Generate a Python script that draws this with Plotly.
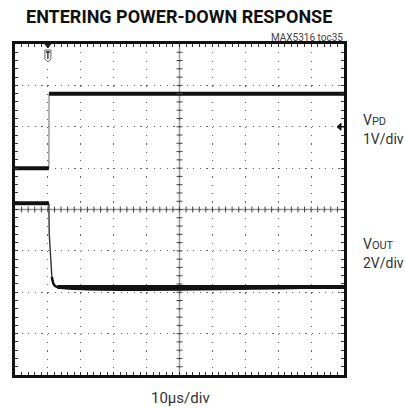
import plotly.graph_objects as go

# Scope settings
time_range_us = [-10, 90]          # 10 us/div, trigger one division from the left
vpd_range_v = [-5, 3]              # 1 V/div, ground one division above centre
vout_range_v = [-4.25, 11.75]      # 2 V/div
trigger_level_v = 1.0

# Power-down input (VPD)
vpd_time_us = [-10, 0.3, 0.35, 90]
vpd_volts = [0.0, 0.0, 1.8, 1.8]

# DAC output (VOUT)
vout_time_us = [-10, 0.3, 0.4, 0.7, 1.2, 1.9, 2.9, 90]
vout_volts = [4.05, 4.05, 2.6, 1.8, 0.5, 0.1, 0.0, 0.0]

W, H = 405, 409
ML, MR, MT, MB = 15, 61, 44, 34
PW, PH = W - ML - MR, H - MT - MB


def px(x):
    return (x - ML) / PW


def py(y):
    return (H - MB - y) / PH


NARROW = "Roboto, Liberation Sans, sans-serif"
TRACE = "#111111"

fig = go.Figure()

# thin transitions
fig.add_trace(go.Scatter(x=vpd_time_us, y=vpd_volts, mode="lines",
                         line=dict(color="#777777", width=1.1), yaxis="y",
                         hoverinfo="skip", showlegend=False))
fig.add_trace(go.Scatter(x=vout_time_us[1:5], y=vout_volts[1:5], mode="lines",
                         line=dict(color="#333333", width=1.4), yaxis="y2",
                         hoverinfo="skip", showlegend=False))
fig.add_trace(go.Scatter(x=vout_time_us[4:], y=vout_volts[4:], mode="lines",
                         line=dict(color=TRACE, width=2.5, shape="spline"), yaxis="y2",
                         hoverinfo="skip", showlegend=False))
# heavy settled levels
for xs, ys, ax in [(vpd_time_us[:2], vpd_volts[:2], "y"),
                   (vpd_time_us[2:], vpd_volts[2:], "y"),
                   (vout_time_us[:2], vout_volts[:2], "y2"),
                   (vout_time_us[6:], vout_volts[6:], "y2")]:
    fig.add_trace(go.Scatter(x=xs, y=ys, mode="lines",
                             line=dict(color=TRACE, width=4), yaxis=ax,
                             hoverinfo="skip", showlegend=False))

shapes = []
# centre graticule lines
mid_t = sum(time_range_us) / 2
mid_v = sum(vpd_range_v) / 2
shapes.append(dict(type="line", xref="x", yref="y domain", x0=mid_t, x1=mid_t, y0=0, y1=1,
                   line=dict(color="#999999", width=1.5), layer="below"))
shapes.append(dict(type="line", xref="x domain", yref="y", x0=0, x1=1, y0=mid_v, y1=mid_v,
                   line=dict(color="#999999", width=1.5), layer="below"))
# sub-division ticks on the centre lines
for k in range(1, 50):
    t = time_range_us[0] + 2 * k
    shapes.append(dict(type="line", xref="x", yref="y", x0=t, x1=t,
                       ysizemode="pixel", yanchor=mid_v, y0=-3, y1=3,
                       line=dict(color="#444444", width=1)))
for k in range(1, 40):
    v = vpd_range_v[0] + 0.2 * k
    shapes.append(dict(type="line", xref="x", yref="y", y0=v, y1=v,
                       xsizemode="pixel", xanchor=mid_t, x0=-3, x1=3,
                       line=dict(color="#444444", width=1)))
# trigger position marker
shapes.append(dict(type="path", xref="x", yref="y", xsizemode="pixel", ysizemode="pixel",
                   xanchor=0, yanchor=vpd_range_v[1],
                   path="M-3,0 L3,0 L0,-4 Z", fillcolor="#222222",
                   line=dict(color="#222222", width=1)))
shapes.append(dict(type="path", xref="x", yref="y", xsizemode="pixel", ysizemode="pixel",
                   xanchor=0, yanchor=vpd_range_v[1],
                   path="M-3,-6 L3,-6 L3,-15 L0,-18 L-3,-15 Z", fillcolor="white",
                   line=dict(color="#666666", width=1)))
shapes.append(dict(type="path", xref="x", yref="y", xsizemode="pixel", ysizemode="pixel",
                   xanchor=0, yanchor=vpd_range_v[1],
                   path="M-2,-8 L2,-8 M0,-8 L0,-15",
                   line=dict(color="#222222", width=1.3)))
# trigger level arrow
shapes.append(dict(type="path", xref="x", yref="y", xsizemode="pixel", ysizemode="pixel",
                   xanchor=time_range_us[1], yanchor=trigger_level_v,
                   path="M-7,0 L-3,3.5 L-3,-3.5 Z", fillcolor="#111111",
                   line=dict(color="#111111", width=1)))
shapes.append(dict(type="line", xref="x", yref="y", xsizemode="pixel", ysizemode="pixel",
                   xanchor=time_range_us[1], yanchor=trigger_level_v,
                   x0=-4, x1=0, y0=0, y1=0, line=dict(color="#111111", width=1.5)))

annotations = [
    dict(text="<b>ENTERING POWER-DOWN RESPONSE</b>", x=px(179), y=py(16),
         font=dict(family=NARROW, size=18, color="#111111")),
    dict(text="MAX5316 toc35", x=px(345), y=py(37), xanchor="right",
         font=dict(family=NARROW, size=10, color="#444444")),
    dict(text="V<span style='font-size:11px'>PD</span>", x=px(361), y=py(120), xanchor="left",
         font=dict(family=NARROW, size=14, color="#333333")),
    dict(text="1V/div", x=px(361), y=py(139), xanchor="left",
         font=dict(family=NARROW, size=14, color="#333333")),
    dict(text="V<span style='font-size:11px'>OUT</span>", x=px(361), y=py(244), xanchor="left",
         font=dict(family=NARROW, size=14, color="#333333")),
    dict(text="2V/div", x=px(361), y=py(263), xanchor="left",
         font=dict(family=NARROW, size=14, color="#333333")),
    dict(text="10µs/div", x=px(180), y=py(398),
         font=dict(family=NARROW, size=15, color="#333333")),
]
for a in annotations:
    a.update(xref="paper", yref="paper", showarrow=False)
    a.setdefault("xanchor", "center")
    a.setdefault("yanchor", "middle")

fig.update_layout(
    width=W, height=H,
    margin=dict(l=ML, r=MR, t=MT, b=MB),
    paper_bgcolor="white", plot_bgcolor="white",
    xaxis=dict(range=time_range_us, dtick=10, tick0=0, showticklabels=False,
               showgrid=True, gridcolor="#666666", gridwidth=1.2,
               griddash="1.2px,7.08px",
               ticks="inside", ticklen=3, tickwidth=1, tickcolor="#333333",
               minor=dict(dtick=2, ticks="inside", ticklen=3, tickwidth=1,
                          tickcolor="#333333", showgrid=False),
               showline=True, linecolor="#111111", linewidth=2.5, mirror="ticks",
               zeroline=False, fixedrange=True),
    yaxis=dict(range=vpd_range_v, dtick=1, tick0=0, showticklabels=False,
               showgrid=True, gridcolor="#666666", gridwidth=1.2,
               griddash="1.2px,5.4px",
               ticks="inside", ticklen=3, tickwidth=1, tickcolor="#333333",
               minor=dict(dtick=0.2, ticks="inside", ticklen=3, tickwidth=1,
                          tickcolor="#333333", showgrid=False),
               showline=True, linecolor="#111111", linewidth=2.5, mirror="ticks",
               zeroline=False, fixedrange=True),
    yaxis2=dict(range=vout_range_v, overlaying="y", visible=False, fixedrange=True),
    shapes=shapes,
    annotations=annotations,
    showlegend=False,
)

fig.write_html("out.html")
